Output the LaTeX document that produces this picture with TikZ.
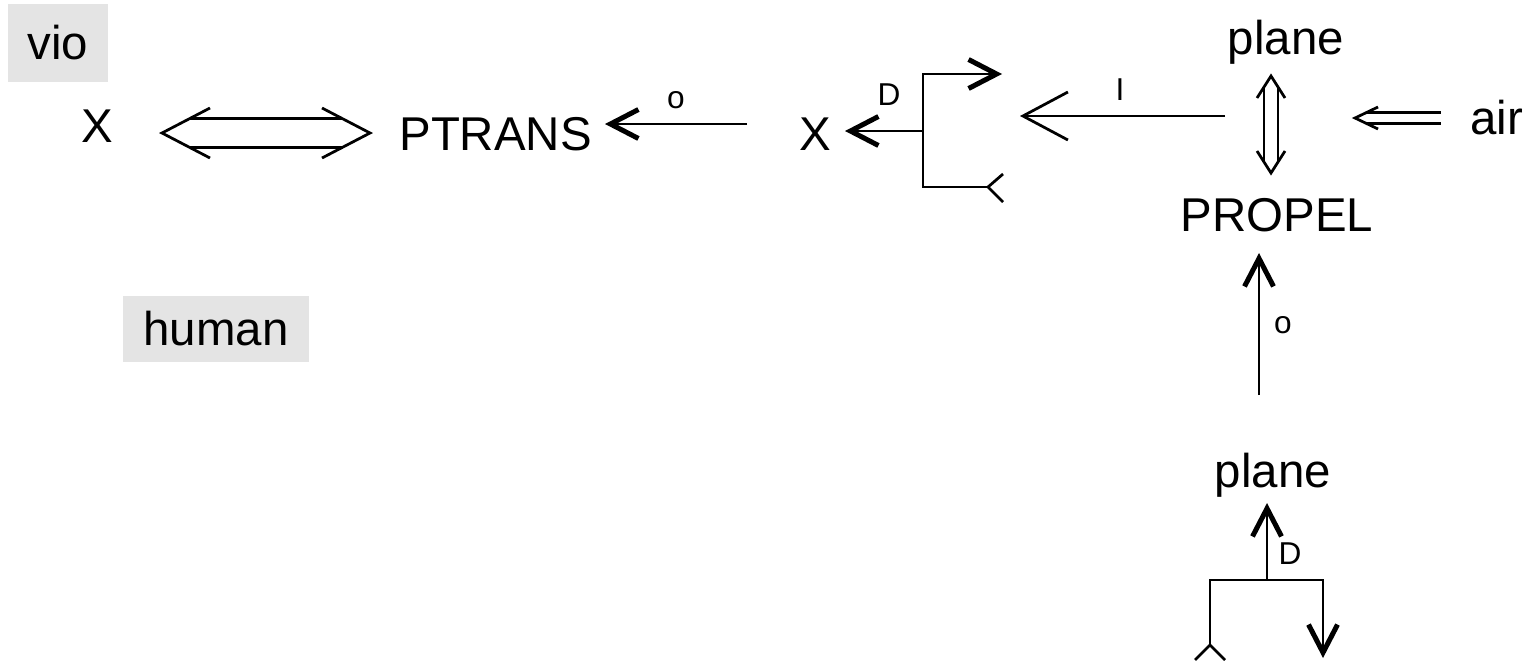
\documentclass[tikz,border=0pt]{standalone}
\usepackage{fontspec}
\setmainfont{Liberation Sans}
\usetikzlibrary{arrows.meta, calc}
\definecolor{boxbg}{HTML}{E4E4E4}
\tikzset{
  word/.style={font=\fontsize{27}{32}\selectfont, inner sep=0pt},
  tag/.style={font=\fontsize{18}{22}\selectfont, inner sep=0pt},
  rolebox/.style={word, fill=boxbg},
  ln/.style={line width=0.055cm},
  boldarr/.style={ln, -{Straight Barb[length=0.56cm, width=0.58cm, line width=0.1cm]}},
  openarr/.style={ln, -{Straight Barb[length=0.9cm, width=0.96cm]}}
}

\begin{document}
\begin{tikzpicture}[x=0.02cm, y=-0.02cm]
  \useasboundingbox (0,0) rectangle (1533,663);

  % text
  \node[rolebox, minimum width=2cm, minimum height=1.56cm] (vio) at (58,43) {vio};
  \node[rolebox, minimum width=3.72cm, minimum height=1.32cm] (human) at (216,329) {human};
  \node[word, anchor=base] (x1) at (97,142) {X};
  \node[word, anchor=base west] (ptrans) at (399,150) {PTRANS};
  \node[word, anchor=base] (x2) at (815,150) {X};
  \node[word, anchor=base] (plane1) at (1286,54) {plane};
  \node[word, anchor=base west] (air) at (1470,134) {air};
  \node[word, anchor=base] (propel) at (1277,231) {PROPEL};
  \node[word, anchor=base] (plane2) at (1273,487) {plane};

  % arrow ends
  \coordinate (dl) at (162,133);
  \coordinate (dr) at (370,133);
  \coordinate (pa) at (747,124);
  \coordinate (pb) at (605,124);
  \coordinate (xa) at (923,131);
  \coordinate (xb) at (845,131);
  \coordinate (bt) at (923,74);
  \coordinate (br) at (1002,74);
  \coordinate (fa) at (988,187);
  \coordinate (ia) at (1225,116);
  \coordinate (ib) at (1020,116);
  \coordinate (vt) at (1271,76);
  \coordinate (vb) at (1271,173);
  \coordinate (aa) at (1441,118);
  \coordinate (ab) at (1355,118);
  \coordinate (ua) at (1259,395);
  \coordinate (ub) at (1259,253);
  \coordinate (la) at (1267,580);
  \coordinate (lb) at (1267,503);
  \coordinate (fb) at (1210,645);
  \coordinate (cr) at (1323,580);
  \coordinate (db) at (1323,658);

  % X <=> PTRANS
  \draw[ln] ($(dl)+(48,-25)$) -- (dl) -- ($(dl)+(48,25)$);
  \draw[ln] ($(dr)+(-48,-25)$) -- (dr) -- ($(dr)+(-48,25)$);
  \draw[ln] ($(dl)+(28,-14.5)$) -- ($(dr)+(-28,-14.5)$);
  \draw[ln] ($(dl)+(28,14.5)$) -- ($(dr)+(-28,14.5)$);

  \draw[boldarr] (pa) -- (pb);
  \node[tag] (o1) at (676,100) {o};
  \draw[boldarr] (xa) -- (xb);
  \node[tag] (d1) at (889,95) {D};

  % upper bracket
  \draw[boldarr] (fa) -| (bt) -- (br);
  \draw[ln] ($(fa)+(15,-13)$) -- (fa) -- ($(fa)+(15,15)$);

  \draw[openarr] (ia) -- (ib);
  \node[tag] (i1) at (1120,90) {I};

  % plane <=> PROPEL
  \draw[ln] ($(vt)+(-14,22)$) -- (vt) -- ($(vt)+(14,22)$);
  \draw[ln] ($(vb)+(-14,-22)$) -- (vb) -- ($(vb)+(14,-22)$);
  \draw[ln] ($(vt)+(-7,11)$) -- ($(vb)+(-7,-11)$);
  \draw[ln] ($(vt)+(7,11)$) -- ($(vb)+(7,-11)$);

  % air
  \draw[ln] ($(ab)+(23,-11)$) -- (ab) -- ($(ab)+(23,11)$);
  \draw[ln] ($(ab)+(11.5,-5.5)$) -- ($(aa)+(0,-5.5)$);
  \draw[ln] ($(ab)+(11.5,5.5)$) -- ($(aa)+(0,5.5)$);

  \draw[boldarr] (ua) -- (ub);
  \node[tag] (o2) at (1283,325) {o};

  % lower bracket
  \draw[boldarr] (la) -- (lb);
  \node[tag] (d2) at (1290,554) {D};
  \draw[boldarr] (fb) |- (cr) -- (db);
  \draw[ln] ($(fb)+(-15,15)$) -- (fb) -- ($(fb)+(15,15)$);
\end{tikzpicture}
\end{document}
